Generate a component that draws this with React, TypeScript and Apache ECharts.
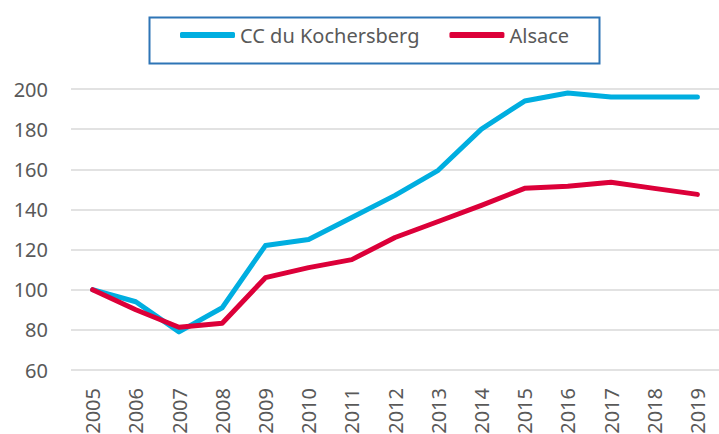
import React, { useEffect, useRef } from "react";
import * as echarts from "echarts";

const years = ["2005","2006","2007","2008","2009","2010","2011","2012","2013","2014","2015","2016","2017","2018","2019"];
const kochersberg = [100, 94, 79, 91, 122, 125, 136, 147, 159.5, 180, 194, 198, 196, 196, 196];
const alsace = [100, 90, 81.3, 83.3, 106, 111, 115, 126, 134, 142, 150.5, 151.5, 153.5, 150.5, 147.5];
const seriesNames = ["CC du Kochersberg", "Alsace"];
const yTicks = { min: 60, max: 200, interval: 20 };

export default function App() {
  const ref = useRef<HTMLDivElement>(null);
  useEffect(() => {
    const chart = echarts.init(ref.current!, null, { renderer: "svg" });
    const font = "'Noto Sans', sans-serif";
    chart.setOption({
      animation: false,
      textStyle: { fontFamily: font },
      grid: { left: 71, right: 0, top: 89, bottom: 64, containLabel: false, outerBoundsMode: "none" },
      legend: {
        left: 180,
        top: 25,
        padding: 0,
        itemWidth: 55,
        itemHeight: 6,
        itemGap: 30,
        icon: "roundRect",
        textStyle: { color: "#595959", fontSize: 20, fontFamily: font },
        data: seriesNames,
      },
      graphic: [
        {
          type: "rect",
          left: 147,
          top: 15,
          shape: { width: 450, height: 46 },
          style: { fill: "none", stroke: "#2E75B6", lineWidth: 2 },
          silent: true,
        },
      ],
      xAxis: {
        type: "category",
        data: years,
        boundaryGap: true,
        axisLine: { show: false },
        axisTick: { show: false },
        axisLabel: {
          rotate: 90,
          color: "#595959",
          fontSize: 20,
          margin: 18,
          fontFamily: font,
        },
      },
      yAxis: {
        type: "value",
        min: yTicks.min,
        max: yTicks.max,
        interval: yTicks.interval,
        axisLine: { show: false },
        axisTick: { show: false },
        axisLabel: { color: "#595959", fontSize: 20, margin: 23, fontFamily: font },
        splitLine: { lineStyle: { color: "#D9D9D9", width: 1.5 } },
      },
      series: [
        {
          name: seriesNames[0],
          type: "line",
          data: kochersberg,
          symbol: "none",
          lineStyle: { color: "#00AEE0", width: 5, cap: "round", join: "round" },
          itemStyle: { color: "#00AEE0" },
        },
        {
          name: seriesNames[1],
          type: "line",
          data: alsace,
          symbol: "none",
          lineStyle: { color: "#DC0039", width: 5, cap: "round", join: "round" },
          itemStyle: { color: "#DC0039" },
        },
      ],
    });
    return () => chart.dispose();
  }, []);
  return <div ref={ref} style={{ width: 719, height: 434, position: "absolute", left: 0, top: 0 }} />;
}
